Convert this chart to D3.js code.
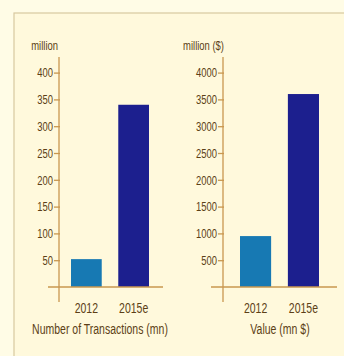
<!DOCTYPE html>
<html>
<head>
<meta charset="utf-8">
<script src="https://cdn.jsdelivr.net/npm/d3@7"></script>
<style>
  body { margin: 0; background: #fffce6; }
  text { font-family: "Liberation Sans", Arial, sans-serif; }
</style>
</head>
<body>
<div id="vizContainer"></div>
<script>
let w = 344;
let h = 356;

// data
let categories = ["2012", "2015e"];
let transactions = [52, 340];
let values = [950, 3600];
let txTicks = [50, 100, 150, 200, 250, 300, 350, 400];
let valTicks = [500, 1000, 1500, 2000, 2500, 3000, 3500, 4000];
let barColors = ["#1779b3", "#1c1f8e"];

let viz = d3.select("#vizContainer").append("svg")
	.attr("width", w)
	.attr("height", h)
	.style("background-color", "#fffce6");

// panel frame
viz.append("rect")
	.attr("x", 14).attr("y", 13)
	.attr("width", w).attr("height", h)
	.attr("fill", "#fff9dc")
	.attr("stroke", "#d8c8a0")
	.attr("stroke-width", 1.2);

let axisColor = "#c9974f";
let textColor = "#5c3f16";
let squeeze = 0.7;

// condensed text: horizontal squeeze like the narrow face in the original
function narrowText(g, x, y, str, size, anchor) {
	return g.append("text")
		.attr("transform", "translate(" + x + "," + y + ") scale(" + squeeze + ",1)")
		.attr("text-anchor", anchor)
		.attr("fill", textColor)
		.style("font-size", size + "px")
		.text(str);
}

function drawPanel(opts) {
	let g = viz.append("g");
	let yScale = d3.scaleLinear().domain([0, opts.max]).range([287, 287 - 8 * 26.8]);
	let xScale = d3.scaleBand().domain(categories).range(opts.barRange).paddingInner(0.35).paddingOuter(0);

	// bars
	g.selectAll(".bar").data(opts.data)
		.enter().append("rect")
		.attr("class", "bar")
		.attr("x", (d, i) => xScale(categories[i]))
		.attr("y", d => yScale(d))
		.attr("width", xScale.bandwidth())
		.attr("height", d => yScale(0) - yScale(d))
		.attr("fill", (d, i) => barColors[i]);

	// baseline
	g.append("line")
		.attr("x1", opts.baseRange[0]).attr("x2", opts.baseRange[1])
		.attr("y1", yScale(0)).attr("y2", yScale(0))
		.attr("stroke", axisColor).attr("stroke-width", 1.5);

	// y axis
	let yAxis = d3.axisLeft(yScale).tickValues(opts.ticks).tickSize(6).tickFormat(d3.format("d"));
	let ax = g.append("g")
		.attr("transform", "translate(" + (opts.axisX + 1) + ",0)")
		.call(yAxis);
	ax.select(".domain").remove();
	ax.selectAll(".tick line").attr("stroke", axisColor).attr("stroke-width", 1.3);
	ax.selectAll(".tick text")
		.attr("x", -7 / squeeze)
		.attr("transform", "scale(" + squeeze + ",1)")
		.attr("fill", textColor)
		.style("font-family", "Liberation Sans, Arial, sans-serif")
		.style("font-size", "13.5px");
	g.append("line")
		.attr("x1", opts.axisX).attr("x2", opts.axisX)
		.attr("y1", 57).attr("y2", 302)
		.attr("stroke", axisColor).attr("stroke-width", 1.3);

	// unit label
	narrowText(g, opts.unitX, 50, opts.unit, 13.5, "end");

	// category labels
	categories.forEach(function (d) {
		narrowText(g, xScale(d) + xScale.bandwidth() / 2, 313, d, 15, "middle");
	});

	// title
	narrowText(g, opts.titleX, 334, opts.title, 15, "middle");
}

drawPanel({
	data: transactions, max: 400, ticks: txTicks,
	axisX: 59, barRange: [71, 149], baseRange: [48, 163],
	unit: "million", unitX: 58, title: "Number of Transactions (mn)", titleX: 100
});

drawPanel({
	data: values, max: 4000, ticks: valTicks,
	axisX: 223, barRange: [240, 319], baseRange: [211, 337],
	unit: "million ($)", unitX: 224, title: "Value (mn $)", titleX: 280
});
</script>
</body>
</html>
